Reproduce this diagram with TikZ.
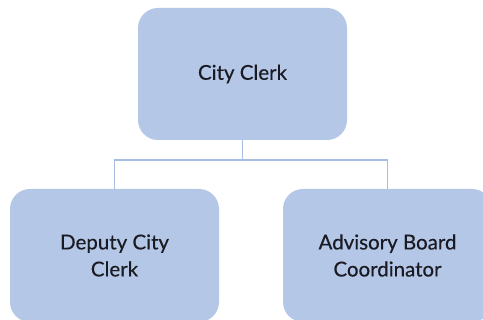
\documentclass[tikz,border=0pt]{standalone}
\usepackage{fontspec}
\setmainfont{Lato}[UprightFeatures={FakeBold=0.35}]
\definecolor{boxfill}{HTML}{B4C7E7}
\definecolor{linecol}{HTML}{A8BDE3}
\definecolor{txt}{HTML}{1A1A22}
\begin{document}
\begin{tikzpicture}[x=1pt,y=1pt,
  orgbox/.style={rectangle, rounded corners=20pt, fill=boxfill, draw=none,
    minimum width=209pt, minimum height=133pt, inner sep=0pt,
    align=center, text=txt, font=\fontsize{20.5}{27}\selectfont},
  link/.style={draw=linecol, line width=1.8pt}]
\useasboundingbox (0,0) rectangle (483,320);
\fill[white] (0,0) rectangle (483,320);
\node[orgbox, minimum height=132pt] (top) at (242.5,246) {City Clerk};
\node[orgbox] (left) at (114.5,64.5) {Deputy City\\Clerk};
\node[orgbox] (right) at (387.5,64.5) {Advisory Board\\Coordinator};
\draw[link] (top.south) -- ++(0,-20) coordinate (b) -| (left.north);
\draw[link] (b) -| (right.north);
\end{tikzpicture}
\end{document}
